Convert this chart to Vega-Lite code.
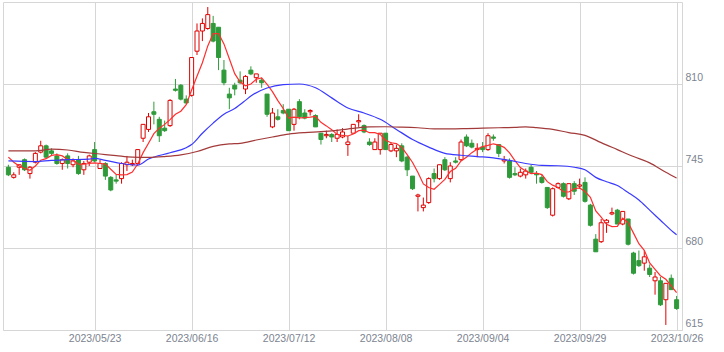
{
"$schema": "https://vega.github.io/schema/vega-lite/v6.json",
"width": 679, "height": 328,
"padding": {"left": 3, "top": 2, "right": 5, "bottom": 5},
"background": "white",
"config": {"view": {"stroke": "#d6d6d6", "strokeWidth": 1}},
"data": {"values": [
{"d":"2023/04/26","o":744,"h":746,"l":737,"c":738,"m5":752,"m25":749,"m75":757},
{"d":"2023/04/27","o":736,"h":740,"l":735,"c":738,"m5":748},
{"d":"2023/04/28","o":744,"h":746,"l":738,"c":746,"m5":745},
{"d":"2023/05/01","o":750,"h":751,"l":741,"c":742,"m5":743},
{"d":"2023/05/02","o":739,"h":745,"l":735,"c":744,"m5":741.6},
{"d":"2023/05/08","o":748,"h":756,"l":747,"c":755,"m5":745,"m25":748.5,"m75":757},
{"d":"2023/05/09","o":756,"h":765,"l":755,"c":761,"m5":749.6},
{"d":"2023/05/10","o":761,"h":762,"l":751,"c":752,"m5":750.8},
{"d":"2023/05/11","o":757,"h":759,"l":753,"c":755,"m5":753.4,"m25":749.5,"m75":758.3},
{"d":"2023/05/12","o":753,"h":755,"l":746,"c":747,"m5":754},
{"d":"2023/05/15","o":747,"h":751,"l":742,"c":750,"m5":753},
{"d":"2023/05/16","o":753,"h":755,"l":743,"c":747,"m5":750.2,"m25":750,"m75":757.7},
{"d":"2023/05/17","o":746,"h":751,"l":744,"c":749,"m5":749.6},
{"d":"2023/05/18","o":750,"h":753,"l":738,"c":739,"m5":746.4},
{"d":"2023/05/19","o":742,"h":749,"l":738,"c":747,"m5":746.4,"m75":755.8},
{"d":"2023/05/22","o":748,"h":754,"l":745,"c":753,"m5":747,"m25":750.5},
{"d":"2023/05/23","o":758,"h":764,"l":748,"c":749,"m5":747.4,"m25":751},
{"d":"2023/05/24","o":743,"h":750,"l":743,"c":747,"m5":747,"m75":754.5},
{"d":"2023/05/25","o":747,"h":748,"l":734,"c":737,"m5":746.6,"m25":749.5},
{"d":"2023/05/26","o":736,"h":737,"l":725,"c":726,"m5":742.4},
{"d":"2023/05/29","o":734,"h":738,"l":731,"c":733,"m5":738.4,"m75":753.2},
{"d":"2023/05/30","o":735,"h":748,"l":731,"c":747,"m5":738,"m25":747},
{"d":"2023/05/31","o":746,"h":753,"l":741,"c":748,"m5":738.2},
{"d":"2023/06/01","o":746,"h":750,"l":745,"c":747,"m5":740.2,"m75":752},
{"d":"2023/06/02","o":747,"h":758,"l":745,"c":758,"m5":746.6,"m25":745.8},
{"d":"2023/06/05","o":767,"h":778,"l":764,"c":778,"m5":755.6},
{"d":"2023/06/06","o":774,"h":787,"l":772,"c":784,"m5":763,"m25":750.5,"m75":751.8},
{"d":"2023/06/07","o":788,"h":796,"l":778,"c":786,"m5":770.6},
{"d":"2023/06/08","o":782,"h":784,"l":764,"c":769,"m5":775},
{"d":"2023/06/09","o":775,"h":781,"l":772,"c":773,"m5":778,"m75":752.5},
{"d":"2023/06/12","o":777,"h":798,"l":776,"c":797,"m5":781.8,"m25":755.5},
{"d":"2023/06/13","o":806,"h":814,"l":804,"c":805,"m5":786},
{"d":"2023/06/14","o":809,"h":810,"l":797,"c":798,"m5":788.4,"m75":753.8},
{"d":"2023/06/15","o":798,"h":801,"l":794,"c":795,"m5":793.6,"m25":759.5},
{"d":"2023/06/16","o":801,"h":831,"l":800,"c":831,"m5":805.2,"m25":762},
{"d":"2023/06/19","o":836,"h":858,"l":833,"c":852,"m5":816.2,"m75":756.5},
{"d":"2023/06/20","o":852,"h":862,"l":844,"c":858,"m5":826.8,"m25":771},
{"d":"2023/06/21","o":854,"h":871,"l":853,"c":865,"m5":840.2},
{"d":"2023/06/22","o":858,"h":864,"l":843,"c":844,"m5":850,"m25":779,"m75":760.5},
{"d":"2023/06/23","o":855,"h":855,"l":821,"c":831,"m5":850},
{"d":"2023/06/26","o":821,"h":829,"l":809,"c":811,"m5":841.8,"m25":786},
{"d":"2023/06/27","o":802,"h":807,"l":790,"c":799,"m5":830,"m75":762.5},
{"d":"2023/06/28","o":809,"h":811,"l":801,"c":806,"m5":818.2,"m25":790.5},
{"d":"2023/06/29","o":813,"h":820,"l":810,"c":811,"m5":811.6,"m75":763},
{"d":"2023/06/30","o":806,"h":817,"l":802,"c":816,"m5":808.6,"m25":797},
{"d":"2023/07/03","o":821,"h":824,"l":817,"c":818,"m5":810,"m25":800.5},
{"d":"2023/07/04","o":815,"h":818,"l":811,"c":818,"m5":813.8,"m75":765.6},
{"d":"2023/07/05","o":813,"h":815,"l":807,"c":811,"m5":814.8},
{"d":"2023/07/06","o":802,"h":802,"l":784,"c":786,"m5":809.8,"m25":806.8},
{"d":"2023/07/07","o":776,"h":791,"l":775,"c":787,"m5":804,"m75":768},
{"d":"2023/07/10","o":784,"h":790,"l":781,"c":782,"m5":796.8},
{"d":"2023/07/11","o":789,"h":794,"l":786,"c":787,"m5":790.6,"m25":809.5},
{"d":"2023/07/12","o":790,"h":790,"l":773,"c":773,"m5":783,"m75":770.3},
{"d":"2023/07/13","o":778,"h":791,"l":773,"c":790,"m5":783.8},
{"d":"2023/07/14","o":796,"h":798,"l":782,"c":784,"m5":783.2,"m25":810},
{"d":"2023/07/18","o":787,"h":790,"l":782,"c":783,"m5":783.4,"m75":771.5},
{"d":"2023/07/19","o":788,"h":790,"l":785,"c":789,"m5":783.8},
{"d":"2023/07/20","o":785,"h":786,"l":776,"c":776,"m5":784.4,"m25":807},
{"d":"2023/07/21","o":771,"h":771,"l":762,"c":766,"m5":779.6,"m75":772.2},
{"d":"2023/07/24","o":769,"h":773,"l":767,"c":770,"m5":776.8},
{"d":"2023/07/25","o":770,"h":771,"l":764,"c":768,"m5":773.8,"m25":799},
{"d":"2023/07/26","o":767,"h":774,"l":764,"c":770,"m5":770,"m75":773.3},
{"d":"2023/07/27","o":768,"h":775,"l":767,"c":772,"m5":769.2},
{"d":"2023/07/28","o":762,"h":769,"l":753,"c":764,"m5":768.8,"m25":791},
{"d":"2023/07/31","o":771,"h":778,"l":771,"c":778,"m5":770.4,"m75":774.8},
{"d":"2023/08/01","o":780,"h":786,"l":776,"c":781,"m5":773},
{"d":"2023/08/02","o":777,"h":778,"l":771,"c":772,"m5":773.4,"m25":787},
{"d":"2023/08/03","o":764,"h":767,"l":761,"c":762,"m5":771.4,"m75":776},
{"d":"2023/08/04","o":758,"h":767,"l":758,"c":764,"m5":771.4},
{"d":"2023/08/07","o":758,"h":771,"l":754,"c":771,"m5":770,"m25":782},
{"d":"2023/08/08","o":771,"h":771,"l":758,"c":758,"m5":765.4,"m75":776.1},
{"d":"2023/08/09","o":757,"h":764,"l":756,"c":762,"m5":763.4},
{"d":"2023/08/10","o":757,"h":762,"l":752,"c":759,"m5":762.8,"m25":774},
{"d":"2023/08/14","o":761,"h":763,"l":748,"c":749,"m5":759.8,"m75":775.8},
{"d":"2023/08/15","o":752,"h":753,"l":737,"c":742,"m5":754},
{"d":"2023/08/16","o":737,"h":737,"l":726,"c":727,"m5":747.8,"m25":766},
{"d":"2023/08/17","o":721,"h":723,"l":709,"c":722,"m5":739.8,"m75":775.3},
{"d":"2023/08/18","o":712,"h":720,"l":709,"c":714,"m5":730.8},
{"d":"2023/08/21","o":716,"h":736,"l":715,"c":735,"m5":728,"m25":760},
{"d":"2023/08/22","o":739,"h":743,"l":732,"c":735,"m5":726.6,"m75":774.5},
{"d":"2023/08/23","o":735,"h":746,"l":734,"c":746,"m5":730.4},
{"d":"2023/08/24","o":750,"h":752,"l":741,"c":742,"m5":734.4,"m25":755},
{"d":"2023/08/25","o":735,"h":748,"l":732,"c":745,"m5":740.6,"m75":774.5},
{"d":"2023/08/28","o":749,"h":752,"l":747,"c":748,"m5":743.2},
{"d":"2023/08/29","o":750,"h":766,"l":749,"c":764,"m5":749,"m25":753.5},
{"d":"2023/08/30","o":768,"h":770,"l":760,"c":761,"m5":752,"m75":774.7},
{"d":"2023/08/31","o":763,"h":766,"l":759,"c":760,"m5":755.6},
{"d":"2023/09/01","o":758,"h":763,"l":752,"c":759,"m5":758.4,"m25":752.5},
{"d":"2023/09/04","o":760,"h":764,"l":756,"c":758,"m5":760.4,"m75":775},
{"d":"2023/09/05","o":758,"h":771,"l":757,"c":769,"m5":761.4},
{"d":"2023/09/06","o":768,"h":770,"l":765,"c":767,"m5":762.6,"m25":751.5},
{"d":"2023/09/07","o":762,"h":762,"l":752,"c":755,"m5":761.6,"m75":775.3},
{"d":"2023/09/08","o":749,"h":753,"l":747,"c":750,"m5":759.8},
{"d":"2023/09/11","o":749,"h":751,"l":735,"c":736,"m5":755.4,"m25":749.5},
{"d":"2023/09/12","o":739,"h":744,"l":737,"c":738,"m5":749.2,"m75":775.6},
{"d":"2023/09/13","o":737,"h":743,"l":736,"c":740,"m5":743.8},
{"d":"2023/09/14","o":738,"h":743,"l":735,"c":741,"m5":741,"m25":747,"m75":776},
{"d":"2023/09/15","o":744,"h":746,"l":739,"c":740,"m5":739},
{"d":"2023/09/19","o":739,"h":741,"l":731,"c":738,"m5":739.4,"m75":775.4},
{"d":"2023/09/20","o":736,"h":738,"l":731,"c":732,"m5":738.2,"m25":745.5},
{"d":"2023/09/21","o":728,"h":728,"l":711,"c":712,"m5":732.6},
{"d":"2023/09/22","o":706,"h":728,"l":705,"c":727,"m5":729.8,"m75":774},
{"d":"2023/09/25","o":728,"h":732,"l":727,"c":731,"m5":728,"m25":745.2},
{"d":"2023/09/26","o":731,"h":732,"l":720,"c":721,"m5":724.6},
{"d":"2023/09/27","o":719,"h":731,"l":718,"c":731,"m5":724.4,"m75":771.5},
{"d":"2023/09/28","o":731,"h":733,"l":722,"c":725,"m5":727,"m25":744},
{"d":"2023/09/29","o":729,"h":735,"l":727,"c":730,"m5":727.6},
{"d":"2023/10/02","o":732,"h":736,"l":716,"c":717,"m5":724.8,"m25":742,"m75":769.3},
{"d":"2023/10/03","o":714,"h":715,"l":697,"c":698,"m5":720.2},
{"d":"2023/10/04","o":687,"h":691,"l":677,"c":677,"m5":709.4,"m25":736},
{"d":"2023/10/05","o":685,"h":703,"l":684,"c":700,"m5":704.4,"m75":763.5},
{"d":"2023/10/06","o":700,"h":703,"l":692,"c":702,"m5":698.8,"m25":732.5},
{"d":"2023/10/10","o":707,"h":712,"l":706,"c":708,"m5":697},
{"d":"2023/10/11","o":710,"h":711,"l":699,"c":699,"m5":697.2,"m25":729.5,"m75":758},
{"d":"2023/10/12","o":699,"h":709,"l":698,"c":709,"m5":703.6},
{"d":"2023/10/13","o":703,"h":703,"l":682,"c":683,"m5":700.2,"m25":724},
{"d":"2023/10/16","o":676,"h":677,"l":659,"c":660,"m5":691.8,"m75":752.5},
{"d":"2023/10/17","o":670,"h":678,"l":665,"c":666,"m5":683.4,"m25":718},
{"d":"2023/10/18","o":668,"h":678,"l":662,"c":673,"m5":678.2},
{"d":"2023/10/19","o":664,"h":667,"l":657,"c":659,"m5":668.2,"m25":710,"m75":747.5},
{"d":"2023/10/20","o":654,"h":661,"l":643,"c":657,"m5":663},
{"d":"2023/10/23","o":654,"h":657,"l":634,"c":635,"m5":658,"m25":702},
{"d":"2023/10/24","o":639,"h":652,"l":619,"c":652,"m5":655.2,"m75":740},
{"d":"2023/10/25","o":656,"h":659,"l":647,"c":647,"m5":650,"m25":694},
{"d":"2023/10/26","o":639,"h":642,"l":631,"c":632,"m5":644.6,"m25":690.5,"m75":735.5}
]},
"encoding": {
  "x": {"field": "d", "type": "ordinal", "scale": {"type": "point", "padding": 1},
    "axis": {"values": ["2023/05/23","2023/06/16","2023/07/12","2023/08/08","2023/09/04","2023/09/29","2023/10/26"],
      "title": null, "grid": true, "gridColor": "#d6d6d6", "ticks": false, "domain": false, "labelAngle": 0,
      "labelColor": "#7c8490", "labelFont": "Liberation Sans", "labelFontSize": 10.5, "labelPadding": 3,
      "labelFlush": false, "labelOverlap": false}}
},
"layer": [
  {"mark": {"type": "rule", "strokeWidth": 1},
   "encoding": {
     "y": {"field": "l", "type": "quantitative", "title": null,
       "scale": {"domain": [615, 875], "nice": false, "zero": false},
       "axis": {"orient": "right", "values": [615, 680, 745, 810], "grid": true, "gridColor": "#d6d6d6",
         "ticks": false, "domain": false, "labelColor": "#7c8490", "labelFont": "Liberation Sans", "labelFontSize": 10.5,
         "labelPadding": 3, "labelOffset": -6.5, "labelFlush": false, "labelOverlap": false, "labelBound": false, "title": null}},
     "y2": {"field": "h"},
     "color": {"condition": {"test": "datum.c >= datum.o", "value": "#e00000"}, "value": "#2f9a3a"}
   }},
  {"mark": {"type": "bar", "size": 4, "strokeWidth": 1},
   "encoding": {
     "y": {"field": "o", "type": "quantitative", "title": null},
     "y2": {"field": "c"},
     "fill": {"condition": {"test": "datum.c >= datum.o", "value": "#ffffff"}, "value": "#2f9a3a"},
     "stroke": {"condition": {"test": "datum.c >= datum.o", "value": "#e00000"}, "value": "#2f9a3a"}
   }},
  {"mark": {"type": "line", "color": "#ff2e2e", "strokeWidth": 1.2},
   "encoding": {"y": {"field": "m5", "type": "quantitative", "title": null}}},
  {"transform": [{"filter": "isValid(datum.m25)"}],
   "mark": {"type": "line", "color": "#3a3aff", "strokeWidth": 1.2, "interpolate": "monotone"},
   "encoding": {"y": {"field": "m25", "type": "quantitative", "title": null}}},
  {"transform": [{"filter": "isValid(datum.m75)"}],
   "mark": {"type": "line", "color": "#a33a3a", "strokeWidth": 1.2, "interpolate": "monotone"},
   "encoding": {"y": {"field": "m75", "type": "quantitative", "title": null}}}
]
}
